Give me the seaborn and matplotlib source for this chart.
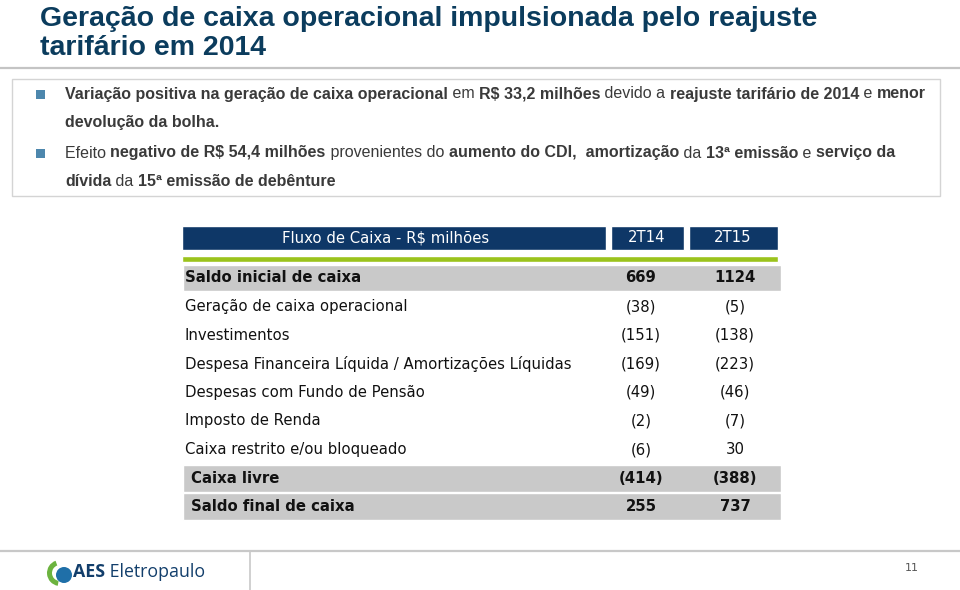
import numpy as np
import pandas as pd
import matplotlib
matplotlib.use('Agg')
import matplotlib.pyplot as plt
from matplotlib import font_manager
from matplotlib.patches import Rectangle, Wedge, Circle
import seaborn as sns

# ---- data ----
title_lines = ['Geração de caixa operacional impulsionada pelo reajuste',
               'tarifário em 2014']

bullet1 = [[('Variação positiva na geração de caixa operacional', True), (' em ', False),
            ('R$ 33,2 milhões', True), (' devido a ', False),
            ('reajuste tarifário de 2014', True), (' e ', False), ('menor', True)],
           [('devolução da bolha.', True)]]
bullet2 = [[('Efeito ', False), ('negativo de R$ 54,4 milhões', True), (' provenientes do ', False),
            ('aumento do CDI,  amortização', True), (' da ', False), ('13ª emissão', True),
            (' e ', False), ('serviço da', True)],
           [('dívida', True), (' da ', False), ('15ª emissão de debênture', True)]]

header = ['Fluxo de Caixa - R$ milhões', '2T14', '2T15']
rows = ['Saldo inicial de caixa', 'Geração de caixa operacional', 'Investimentos',
        'Despesa Financeira Líquida / Amortizações Líquidas', 'Despesas com Fundo de Pensão',
        'Imposto de Renda', 'Caixa restrito e/ou bloqueado', 'Caixa livre', 'Saldo final de caixa']
v_2t14 = [669, -38, -151, -169, -49, -2, -6, -414, 255]
v_2t15 = [1124, -5, -138, -223, -46, -7, 30, -388, 737]
bold_rows = ['Saldo inicial de caixa', 'Caixa livre', 'Saldo final de caixa']
band_rows = ['Saldo inicial de caixa', 'Caixa livre', 'Saldo final de caixa']
page = '11'

df = pd.DataFrame({'item': rows, '2T14': v_2t14, '2T15': v_2t15})

# ---- style ----
sns.set_theme(style='white')
avail = {f.name for f in font_manager.fontManager.ttflist}
narrow = 'Liberation Sans Narrow' if 'Liberation Sans Narrow' in avail else 'Liberation Sans'
plt.rcParams['font.family'] = ['DejaVu Sans']

navy = '#0e3767'
title_col = '#0b3c5d'
text_col = '#3a3a3a'

W, H = 960, 590
fig = plt.figure(figsize=(9.6, 5.9), dpi=100)
fig.patch.set_facecolor('white')
bg = fig.add_axes([0, 0, 1, 1])
bg.set_xlim(0, W)
bg.set_ylim(H, 0)
bg.axis('off')
renderer = fig.canvas.get_renderer()


def width_px(s, size, family, weight='normal'):
    t1 = bg.text(0, 0, '|' + s + '|', fontsize=size, family=family, fontweight=weight)
    t2 = bg.text(0, 0, '||', fontsize=size, family=family, fontweight=weight)
    w = t1.get_window_extent(renderer).width - t2.get_window_extent(renderer).width
    t1.remove()
    t2.remove()
    return w


def fit(parts, target, family, ref=10):
    w = sum(width_px(s, ref, family, 'bold' if b else 'normal') for s, b in parts)
    return ref * target / w


def draw_runs(x, y, parts, size, family, color, va='center'):
    for s, b in parts:
        wt = 'bold' if b else 'normal'
        bg.text(x, y, s, fontsize=size, family=family, fontweight=wt, color=color,
                va=va, ha='left')
        x += width_px(s, size, family, wt)


# ---- title ----
tsize = min(fit([(title_lines[0], True)], 803, narrow), 20.5)
bg.text(40, 26, title_lines[0], fontsize=tsize, family=narrow, fontweight='bold',
        color=title_col, va='baseline')
bg.text(40, 55, title_lines[1], fontsize=tsize, family=narrow, fontweight='bold',
        color=title_col, va='baseline')
bg.plot([0, W], [68, 68], color='#c4c4c4', lw=1.6)

# ---- bullet box ----
bg.add_patch(Rectangle((12, 79), 928, 117, facecolor='white', edgecolor='#d4d4d4', lw=1))
bsize = fit(bullet1[0], 857, narrow)
for by, lines in [(94, bullet1), (153, bullet2)]:
    bg.add_patch(Rectangle((36, by - 4.5), 9, 9, facecolor='#4d87ad', edgecolor='none'))
    for k, parts in enumerate(lines):
        draw_runs(65, by + k * 29, parts, bsize, narrow, text_col)

# ---- table ----
y0, dy = 278, 28.6
top_px, bot_px = 225, 523
tab = fig.add_axes([182 / W, 1 - bot_px / H, (781 - 182) / W, (bot_px - top_px) / H])
tab.set_xlim(182, 781)
tab.set_ylim((bot_px - y0) / dy, (top_px - y0) / dy)
tab.axis('off')

idx = np.arange(len(df))
hy = (238 - y0) / dy
gy = (259 - y0) / dy
tab.barh([hy] * 3, [424, 73, 89], left=[182, 611, 689], height=24 / dy, color=navy)
tab.barh([gy], [596], left=[182], height=6 / dy, color='#9bc31c')
band = df['item'].isin(band_rows).to_numpy()
tab.barh(idx[band], 598, left=183, height=0.94, color='#c9c9c9')

lsize = fit([(rows[3], False)], 386, 'DejaVu Sans')
for hx, h in zip([386, 647, 733], header):
    tab.text(hx, hy, h, color='white', fontsize=lsize, ha='center', va='center')


def fmt(v):
    return f'({abs(v)})' if v < 0 else f'{v}'


for i, r in df.iterrows():
    b = r['item'] in bold_rows
    wt = 'bold' if b else 'normal'
    lx = 191 if r['item'] in ('Caixa livre', 'Saldo final de caixa') else 185
    tab.text(lx, i, r['item'], fontsize=lsize, fontweight=wt, color='#111111',
             ha='left', va='center')
    tab.text(641, i, fmt(r['2T14']), fontsize=lsize, fontweight=wt, color='#111111',
             ha='center', va='center')
    tab.text(735, i, fmt(r['2T15']), fontsize=lsize, fontweight=wt, color='#111111',
             ha='center', va='center')

# ---- footer ----
bg.plot([0, W], [551, 551], color='#c8c8c8', lw=1.6)
bg.plot([250, 250], [551, 590], color='#c8c8c8', lw=1.2)
bg.add_patch(Wedge((60, 573), 13, 100, 250, width=5, facecolor='#6cb33f', edgecolor='none'))
bg.add_patch(Circle((64, 575), 8, facecolor='#1f6fa8', edgecolor='none'))
logo = [('AES', True), (' Eletropaulo', False)]
fsize = fit(logo, 132, 'Open Sans')
draw_runs(73, 572, logo, fsize, 'Open Sans', '#123e6b')
bg.text(912, 568, page, fontsize=8, color='#555555', ha='center', va='center')

fig.savefig('out.png', dpi=100, facecolor='white')
